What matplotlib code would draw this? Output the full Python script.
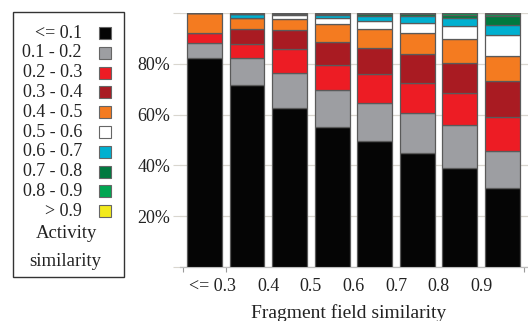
import matplotlib
matplotlib.use("Agg")
import matplotlib.pyplot as plt
from matplotlib.patches import Rectangle
import numpy as np

plt.rcParams['font.family'] = ['Liberation Serif', 'DejaVu Serif']

# Fragment field similarity bins (x categories)
x_labels = ["<= 0.3", "0.4", "0.5", "0.6", "0.7", "0.8", "0.9"]

# Activity similarity classes (stack order, bottom to top)
classes = ["<= 0.1", "0.1 - 0.2", "0.2 - 0.3", "0.3 - 0.4", "0.4 - 0.5",
           "0.5 - 0.6", "0.6 - 0.7", "0.7 - 0.8", "0.8 - 0.9", "> 0.9"]
colors = ["#050505", "#9d9ea2", "#ed1c24", "#a91b22", "#f47b20",
          "#ffffff", "#00b0d0", "#00793f", "#00a651", "#f2ea1c"]

# Percent of pairs per class, for each of 8 bars
s_le01  = [82.3, 71.6, 62.7, 55.3, 49.6, 44.8, 39.1, 31.3]
s_01_02 = [5.7, 10.5, 13.5, 14.4, 15.0, 15.9, 16.8, 14.5]
s_02_03 = [4.0, 5.5, 9.4, 9.8, 11.2, 11.8, 12.4, 13.1]
s_03_04 = [0.0, 6.0, 7.5, 9.1, 10.2, 11.2, 11.8, 14.3]
s_04_05 = [8.0, 4.2, 4.5, 6.8, 7.5, 8.2, 9.5, 9.9]
s_05_06 = [0.0, 0.2, 1.5, 2.4, 3.2, 4.1, 5.2, 8.1]
s_06_07 = [0.0, 1.6, 0.5, 1.3, 2.1, 2.8, 3.0, 4.0]
s_07_08 = [0.0, 0.0, 0.0, 0.5, 0.5, 0.7, 1.3, 3.5]
s_08_09 = [0.0, 0.0, 0.0, 0.0, 0.3, 0.3, 0.6, 0.8]
s_gt09  = [0.0, 0.4, 0.4, 0.4, 0.4, 0.2, 0.3, 0.5]

series = [s_le01, s_01_02, s_02_03, s_03_04, s_04_05,
          s_05_06, s_06_07, s_07_08, s_08_09, s_gt09]

W, H = 528, 321
fig = plt.figure(figsize=(W / 100, H / 100), dpi=100)
ax = fig.add_axes([180 / W, 53.7 / H, (528 - 180) / W, (267.3 - 12.7) / H])

xpos = np.arange(len(s_le01))
bottom = np.zeros(len(xpos))
for vals, col in zip(series, colors):
    v = np.array(vals)
    ax.bar(xpos, v, bottom=bottom, width=0.82, color=col,
           edgecolor="#5a5a5a", linewidth=0.9, zorder=3)
    bottom += v

ax.set_xlim(-0.575, 7.6)
ax.set_ylim(0, 100)

grid_col = "#d9d6cf"
ax.set_yticks([0, 20, 40, 60, 80, 100])
ax.set_yticklabels(["", "20%", "40%", "60%", "80%", ""])
ax.yaxis.grid(True, color=grid_col, linewidth=0.9, zorder=0)
ax.tick_params(axis='y', length=5, color=grid_col, pad=2, labelsize=13,
               labelcolor="#222222")

# tick marks at bin edges, labels at bin boundaries
ax.set_xticks(np.arange(-0.5, 8.0, 1.0), minor=True)
ax.set_xticks([0.18] + list(np.arange(1.5, 7.0, 1.0)))
ax.set_xticklabels(x_labels)
ax.tick_params(axis='x', which='minor', length=3.5, color="#9a9a9a", width=0.8)
ax.tick_params(axis='x', which='major', length=0, pad=8, labelsize=13,
               labelcolor="#222222")

for s in ["top", "right", "left"]:
    ax.spines[s].set_visible(False)
ax.spines["bottom"].set_color("#bdbdbd")
ax.spines["bottom"].set_linewidth(0.9)

fig.text(349 / W, 1 - 313 / H, "Fragment field similarity", ha="center",
         va="center", fontsize=14, color="#222222")

# Legend (manual, inside a box on the left)
fig.patches.append(Rectangle((13 / W, 1 - 277 / H), (124 - 13) / W, (277 - 12) / H,
                             transform=fig.transFigure, fill=False,
                             edgecolor="#333333", linewidth=1.0))
for i, (lab, col) in enumerate(zip(classes, colors)):
    yc = 33 + i * 19.8
    fig.text(82 / W, 1 - yc / H, lab, ha="right", va="center",
             fontsize=13, color="#222222")
    fig.patches.append(Rectangle((99 / W, 1 - (yc + 6) / H), 12 / W, 12 / H,
                                 transform=fig.transFigure, facecolor=col,
                                 edgecolor="#666666", linewidth=0.8))
fig.text(67 / W, 1 - 233 / H, "Activity", ha="center", va="center",
         fontsize=13.5, color="#222222")
fig.text(65 / W, 1 - 261 / H, "similarity", ha="center", va="center",
         fontsize=13.5, color="#222222")

fig.savefig("out.png", dpi=100)
